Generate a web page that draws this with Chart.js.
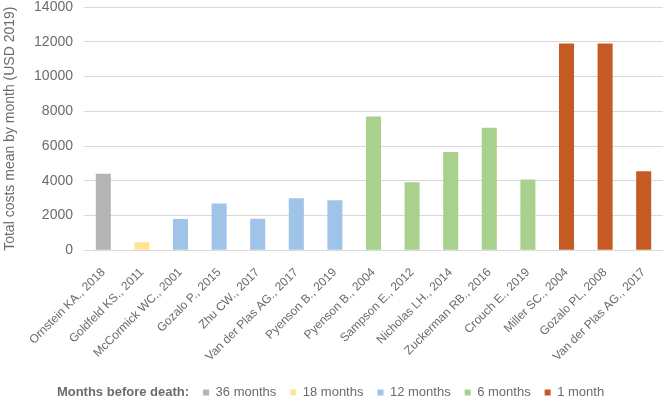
<!DOCTYPE html>
<html>
<head>
<meta charset="utf-8">
<script src="https://cdn.jsdelivr.net/npm/chart.js@4"></script>
<style>
  html, body { margin: 0; padding: 0; background: #fff; }
  #wrap { width: 663px; height: 417px; }
</style>
</head>
<body>
<div id="wrap"><canvas id="costChart" width="663" height="417"></canvas></div>
<script>
"use strict";

// studies along the x axis
const studies = ['Ornstein KA., 2018', 'Goldfeld KS., 2011', 'McCormick WC., 2001', 'Gozalo P., 2015',
  'Zhu CW., 2017', 'Van der Plas AG., 2017', 'Pyenson B., 2019', 'Pyenson B., 2004', 'Sampson E., 2012',
  'Nicholas LH., 2014', 'Zuckerman RB., 2016', 'Crouch E., 2019', 'Miller SC., 2004', 'Gozalo PL, 2008',
  'Van der Plas AG., 2017'];

// mean total cost per month (USD 2019)
const costs = [4400, 470, 1800, 2700, 1820, 3000, 2880, 7700, 3910, 5650, 7050, 4070, 11900, 11900, 4550];

// months before death covered by each study
const windows = ['36 months', '18 months', '12 months', '12 months', '12 months', '12 months', '12 months',
  '6 months', '6 months', '6 months', '6 months', '6 months', '1 month', '1 month', '1 month'];

const windowNames = ['36 months', '18 months', '12 months', '6 months', '1 month'];
const windowColors = ['#b4b4b4', '#ffe496', '#9fc4e8', '#a9d18e', '#c55a24'];

const yTicks = [0, 2000, 4000, 6000, 8000, 10000, 12000, 14000];

const textGrey = '#6b6b6b';
const fontFamily = '"Liberation Sans", Arial, Helvetica, sans-serif';

// one dataset per time window, stacked so each study keeps a single centred bar
const datasets = windowNames.map(function (name, k) {
  return {
    label: name,
    data: costs.map(function (v, i) { return windows[i] === name ? v : null; }),
    backgroundColor: windowColors[k],
    barPercentage: 0.39,
    categoryPercentage: 1
  };
});

// bold "Months before death:" in front of the legend items
const legendLead = {
  id: 'legendLead',
  text: 'Months before death:',
  afterLayout(chart) {
    const lg = chart.legend;
    const ctx = chart.ctx;
    ctx.save();
    ctx.font = 'bold 13px ' + fontFamily;
    const leadW = ctx.measureText(this.text).width;
    ctx.restore();
    const pad = lg.options.labels.padding;
    const total = leadW + 14 + lg.lineWidths[0];
    const start = (chart.width - total) / 2 + 6;
    lg.left = start + leadW + 14 - pad;
    lg.width = lg.right - lg.left;
    this._x = start;
  },
  afterDraw(chart) {
    const lg = chart.legend;
    const ctx = chart.ctx;
    const hb = lg.legendHitBoxes[0];
    ctx.save();
    ctx.font = 'bold 13px ' + fontFamily;
    ctx.fillStyle = textGrey;
    ctx.textAlign = 'left';
    ctx.textBaseline = 'middle';
    ctx.fillText(this.text, this._x, hb.top + hb.height / 2);
    ctx.restore();
  }
};

new Chart(document.getElementById('costChart'), {
  type: 'bar',
  data: { labels: studies, datasets: datasets },
  plugins: [legendLead],
  options: {
    responsive: false,
    animation: false,
    layout: { padding: { top: 0, right: 0, bottom: 8, left: 0 } },
    plugins: {
      tooltip: { enabled: false },
      legend: {
        position: 'bottom',
        align: 'start',
        labels: {
          boxWidth: 6,
          boxHeight: 6,
          padding: 14,
          color: textGrey,
          font: { family: fontFamily, size: 13 }
        }
      }
    },
    scales: {
      x: {
        stacked: true,
        grid: { display: false },
        border: { display: true, color: '#d9d9d9' },
        afterFit(scale) { scale.height += 1; },
        ticks: {
          color: textGrey,
          font: { family: fontFamily, size: 12 },
          minRotation: 45,
          maxRotation: 45,
          autoSkip: false,
          padding: 7
        }
      },
      y: {
        stacked: true,
        min: 0,
        max: 14000,
        afterBuildTicks(scale) {
          scale.ticks = yTicks.map(function (v) { return { value: v }; });
        },
        afterFit(scale) {
          scale.width = 84;
          scale.paddingTop = 7;
          scale.paddingBottom = 0;
        },
        grid: { color: '#d9d9d9', drawTicks: false },
        border: { display: false },
        ticks: {
          color: textGrey,
          font: { family: fontFamily, size: 14 },
          padding: 11,
          callback: function (v) { return String(v); }
        },
        title: {
          display: true,
          text: 'Total costs mean by month (USD 2019)',
          color: textGrey,
          font: { family: fontFamily, size: 14 },
          padding: { top: 2, bottom: 0 }
        }
      }
    }
  }
});
</script>
</body>
</html>
